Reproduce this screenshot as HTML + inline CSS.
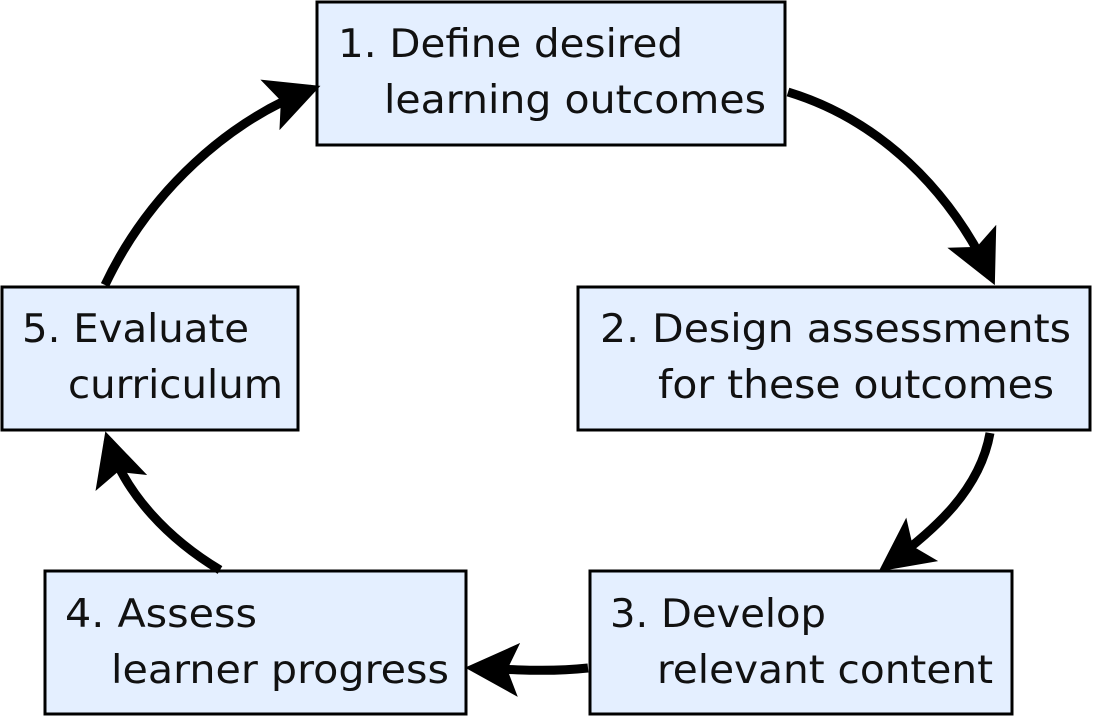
<!DOCTYPE html>
<html><head><style>
body{margin:0;background:#fff}
svg{display:block}
text{font-family:"DejaVu Sans","Liberation Sans",sans-serif;font-size:39px;fill:#111}
rect{fill:#e4efff;stroke:#000;stroke-width:3}
path{fill:none;stroke:#000;stroke-width:9}
</style></head><body>
<svg width="1094" height="717" viewBox="0 0 1094 717">
<defs><marker id="a" markerWidth="6" markerHeight="6" refX="5" refY="3" orient="auto" markerUnits="strokeWidth"><path d="M0,0 L6,3 L0,6 L1.3,3 Z" style="fill:#000;stroke:none"/></marker></defs>
<rect x="317" y="2" width="468" height="143"/>
<rect x="578" y="287" width="512" height="143"/>
<rect x="590" y="571" width="422" height="143"/>
<rect x="45" y="571" width="421" height="143"/>
<rect x="2" y="287" width="296" height="143"/>
<text x="338" y="57" textLength="345" lengthAdjust="spacingAndGlyphs">1. Define desired</text>
<text x="384" y="113" textLength="382" lengthAdjust="spacingAndGlyphs">learning outcomes</text>
<text x="600" y="342" textLength="471" lengthAdjust="spacingAndGlyphs">2. Design assessments</text>
<text x="658" y="398" textLength="396" lengthAdjust="spacingAndGlyphs">for these outcomes</text>
<text x="610" y="627" textLength="216" lengthAdjust="spacingAndGlyphs">3. Develop</text>
<text x="657" y="683" textLength="336" lengthAdjust="spacingAndGlyphs">relevant content</text>
<text x="65" y="627" textLength="192" lengthAdjust="spacingAndGlyphs">4. Assess</text>
<text x="111" y="683" textLength="338" lengthAdjust="spacingAndGlyphs">learner progress</text>
<text x="22" y="342" textLength="227" lengthAdjust="spacingAndGlyphs">5. Evaluate</text>
<text x="68" y="398" textLength="215" lengthAdjust="spacingAndGlyphs">curriculum</text>
<path d="M788,92 C880,120 950,190 991,277" marker-end="url(#a)"/>
<path d="M990,433 C980,490 935,530 886,566" marker-end="url(#a)"/>
<path d="M588,668 C550,672 520,670 474,668" marker-end="url(#a)"/>
<path d="M220,570 C170,540 125,495 108,440" marker-end="url(#a)"/>
<path d="M105,285 C150,190 230,120 312,89" marker-end="url(#a)"/>
</svg>
</body></html>
